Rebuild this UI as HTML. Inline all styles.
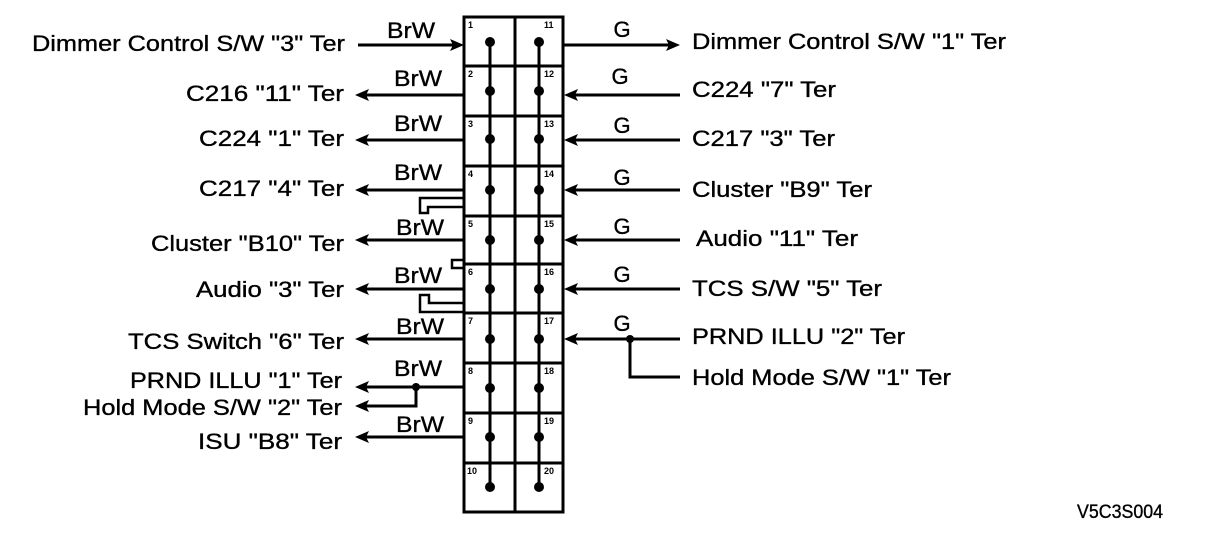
<!DOCTYPE html>
<html><head><meta charset="utf-8"><style>
html,body{margin:0;padding:0;background:#fff;}
svg{display:block;}
text{font-family:"Liberation Sans",Arial,sans-serif;fill:#000;}
.l{font-size:22px;stroke:#000;stroke-width:0.35;}
.n{font-size:9px;font-weight:bold;}
</style></head><body>
<svg width="1216" height="550" viewBox="0 0 1216 550" xmlns="http://www.w3.org/2000/svg">
<g stroke="#000" stroke-width="3" fill="none">
<rect x="464" y="17" width="99" height="495"/>
<line x1="515" y1="17" x2="515" y2="512"/>
<line x1="464" y1="66" x2="563" y2="66"/>
<line x1="464" y1="116" x2="563" y2="116"/>
<line x1="464" y1="166" x2="563" y2="166"/>
<line x1="464" y1="216" x2="563" y2="216"/>
<line x1="464" y1="264" x2="563" y2="264"/>
<line x1="464" y1="313" x2="563" y2="313"/>
<line x1="464" y1="363" x2="563" y2="363"/>
<line x1="464" y1="413" x2="563" y2="413"/>
<line x1="464" y1="463" x2="563" y2="463"/>
<line x1="490" y1="42" x2="490" y2="487"/>
<line x1="539" y1="42" x2="539" y2="487"/>
<line x1="358" y1="45" x2="458" y2="45"/>
<line x1="366" y1="95" x2="464" y2="95"/>
<line x1="366" y1="140" x2="464" y2="140"/>
<line x1="366" y1="190" x2="464" y2="190"/>
<line x1="366" y1="240" x2="464" y2="240"/>
<line x1="366" y1="289" x2="464" y2="289"/>
<line x1="366" y1="339" x2="464" y2="339"/>
<line x1="366" y1="387" x2="464" y2="387"/>
<polyline points="416,387 416,406 366,406"/>
<line x1="366" y1="437" x2="464" y2="437"/>
<polyline points="464,198 420,198 420,213 428,213 428,207 464,207" stroke-width="2.5"/>
<polyline points="464,260 452,260 452,268 464,268" stroke-width="2.5"/>
<polyline points="464,303 429,303 429,295 420,295 420,312 464,312" stroke-width="2.5"/>
<line x1="563" y1="45" x2="674" y2="45"/>
<line x1="570" y1="95" x2="680" y2="95"/>
<line x1="570" y1="140" x2="680" y2="140"/>
<line x1="570" y1="190" x2="680" y2="190"/>
<line x1="570" y1="240" x2="680" y2="240"/>
<line x1="570" y1="289" x2="680" y2="289"/>
<line x1="570" y1="339" x2="680" y2="339"/>
<polyline points="630,339 630,377 680,377"/>
</g>
<g fill="#000">
<polygon points="464,45 450,39 453,45 450,51"/>
<polygon points="680,45 666,39 669,45 666,51"/>
<polygon points="355,95 369,89 366,95 369,101"/>
<polygon points="355,140 369,134 366,140 369,146"/>
<polygon points="355,190 369,184 366,190 369,196"/>
<polygon points="355,240 369,234 366,240 369,246"/>
<polygon points="355,289 369,283 366,289 369,295"/>
<polygon points="355,339 369,333 366,339 369,345"/>
<polygon points="355,387 369,381 366,387 369,393"/>
<polygon points="355,406 369,400 366,406 369,412"/>
<polygon points="355,437 369,431 366,437 369,443"/>
<polygon points="564,95 578,89 575,95 578,101"/>
<polygon points="564,140 578,134 575,140 578,146"/>
<polygon points="564,190 578,184 575,190 578,196"/>
<polygon points="564,240 578,234 575,240 578,246"/>
<polygon points="564,289 578,283 575,289 578,295"/>
<polygon points="564,339 578,333 575,339 578,345"/>
<circle cx="416" cy="387" r="4"/>
<circle cx="630" cy="339" r="4"/>
<circle cx="490" cy="42" r="5"/><circle cx="539" cy="42" r="5"/>
<circle cx="490" cy="91" r="5"/><circle cx="539" cy="91" r="5"/>
<circle cx="490" cy="139" r="5"/><circle cx="539" cy="139" r="5"/>
<circle cx="490" cy="190" r="5"/><circle cx="539" cy="190" r="5"/>
<circle cx="490" cy="240" r="5"/><circle cx="539" cy="240" r="5"/>
<circle cx="490" cy="289" r="5"/><circle cx="539" cy="289" r="5"/>
<circle cx="490" cy="339" r="5"/><circle cx="539" cy="339" r="5"/>
<circle cx="490" cy="388" r="5"/><circle cx="539" cy="388" r="5"/>
<circle cx="490" cy="437" r="5"/><circle cx="539" cy="437" r="5"/>
<circle cx="490" cy="487" r="5"/><circle cx="539" cy="487" r="5"/>
</g>
<g class="n">
<text x="468" y="28" class="n">1</text><text x="544" y="28" class="n">11</text>
<text x="468" y="77" class="n">2</text><text x="544" y="77" class="n">12</text>
<text x="468" y="127" class="n">3</text><text x="544" y="127" class="n">13</text>
<text x="468" y="177" class="n">4</text><text x="544" y="177" class="n">14</text>
<text x="468" y="227" class="n">5</text><text x="544" y="227" class="n">15</text>
<text x="468" y="275" class="n">6</text><text x="544" y="275" class="n">16</text>
<text x="468" y="324" class="n">7</text><text x="544" y="324" class="n">17</text>
<text x="468" y="374" class="n">8</text><text x="544" y="374" class="n">18</text>
<text x="468" y="424" class="n">9</text><text x="544" y="424" class="n">19</text>
<text x="467" y="474" class="n">10</text><text x="544" y="474" class="n">20</text>
</g>
<g class="l">
<text x="387" y="38" textLength="48" lengthAdjust="spacingAndGlyphs">BrW</text>
<text x="394" y="86" textLength="48" lengthAdjust="spacingAndGlyphs">BrW</text>
<text x="394" y="131" textLength="48" lengthAdjust="spacingAndGlyphs">BrW</text>
<text x="394" y="180" textLength="48" lengthAdjust="spacingAndGlyphs">BrW</text>
<text x="396" y="235" textLength="48" lengthAdjust="spacingAndGlyphs">BrW</text>
<text x="394" y="283" textLength="48" lengthAdjust="spacingAndGlyphs">BrW</text>
<text x="396" y="334" textLength="48" lengthAdjust="spacingAndGlyphs">BrW</text>
<text x="394" y="376" textLength="48" lengthAdjust="spacingAndGlyphs">BrW</text>
<text x="396" y="432" textLength="48" lengthAdjust="spacingAndGlyphs">BrW</text>
</g>
<g class="l" text-anchor="middle">
<text x="622" y="37">G</text>
<text x="620" y="84">G</text>
<text x="622" y="133">G</text>
<text x="622" y="185">G</text>
<text x="622" y="234">G</text>
<text x="622" y="282">G</text>
<text x="622" y="331">G</text>
</g>
<g class="l" lengthAdjust="spacingAndGlyphs">
<text x="32" y="51" textLength="313" lengthAdjust="spacingAndGlyphs">Dimmer Control S/W "3" Ter</text>
<text x="186" y="101" textLength="158" lengthAdjust="spacingAndGlyphs">C216 "11" Ter</text>
<text x="199" y="146" textLength="145" lengthAdjust="spacingAndGlyphs">C224 "1" Ter</text>
<text x="199" y="196" textLength="145" lengthAdjust="spacingAndGlyphs">C217 "4" Ter</text>
<text x="151" y="251" textLength="193" lengthAdjust="spacingAndGlyphs">Cluster "B10" Ter</text>
<text x="196" y="297" textLength="148" lengthAdjust="spacingAndGlyphs">Audio "3" Ter</text>
<text x="128" y="349" textLength="216" lengthAdjust="spacingAndGlyphs">TCS Switch "6" Ter</text>
<text x="130" y="388" textLength="212" lengthAdjust="spacingAndGlyphs">PRND ILLU "1" Ter</text>
<text x="83" y="415" textLength="259" lengthAdjust="spacingAndGlyphs">Hold Mode S/W "2" Ter</text>
<text x="198" y="449" textLength="144" lengthAdjust="spacingAndGlyphs">ISU "B8" Ter</text>
<text x="692" y="49" textLength="314" lengthAdjust="spacingAndGlyphs">Dimmer Control S/W "1" Ter</text>
<text x="692" y="97" textLength="144" lengthAdjust="spacingAndGlyphs">C224 "7" Ter</text>
<text x="692" y="146" textLength="143" lengthAdjust="spacingAndGlyphs">C217 "3" Ter</text>
<text x="692" y="197" textLength="180" lengthAdjust="spacingAndGlyphs">Cluster "B9" Ter</text>
<text x="696" y="246" textLength="162" lengthAdjust="spacingAndGlyphs">Audio "11" Ter</text>
<text x="692" y="296" textLength="190" lengthAdjust="spacingAndGlyphs">TCS S/W "5" Ter</text>
<text x="692" y="344" textLength="213" lengthAdjust="spacingAndGlyphs">PRND ILLU "2" Ter</text>
<text x="692" y="385" textLength="259" lengthAdjust="spacingAndGlyphs">Hold Mode S/W "1" Ter</text>
<text x="1077" y="518" style="font-size:19px" textLength="86" lengthAdjust="spacingAndGlyphs">V5C3S004</text>
</g>
</svg>
</body></html>
